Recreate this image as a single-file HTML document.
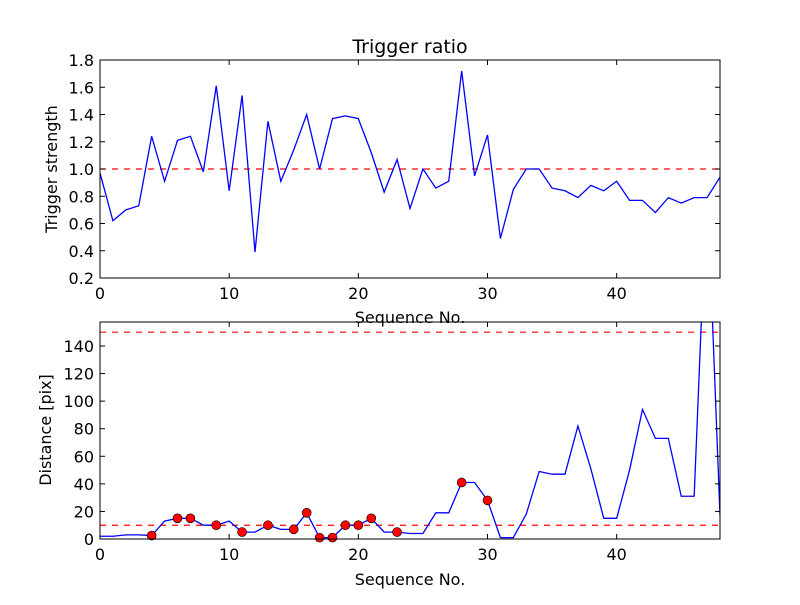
<!DOCTYPE html>
<html><head><meta charset="utf-8"><style>
body{margin:0;background:#fff;}
svg text{font-family:"DejaVu Sans","Liberation Sans",sans-serif;fill:#000;}
</style></head><body>
<svg id="chart" width="800" height="600" xmlns="http://www.w3.org/2000/svg">
<rect width="800" height="600" fill="#fff"/>
</svg>
<script>
const seq = Array.from({length:49},(_,i)=>i);
const ratio = [0.97,0.62,0.70,0.73,1.24,0.91,1.21,1.24,0.98,1.61,0.84,1.54,0.39,1.35,0.91,1.14,1.40,1.00,1.37,1.39,1.37,1.12,0.83,1.07,0.71,1.00,0.86,0.91,1.72,0.95,1.25,0.49,0.85,1.00,1.00,0.86,0.84,0.79,0.88,0.84,0.91,0.77,0.77,0.68,0.79,0.75,0.79,0.79,0.94];
const distance = [2,2,3,3,2.5,13,15,15,10,10,13,5,5,10,7,7,19,1,1,10,10,15,5,5,4,4,19,19,41,41,28,1,1,18,49,47,47,82,51,15,15,50,94,73,73,31,31,260,17];
const markedIdx = [4,6,7,9,11,13,15,16,17,18,19,20,21,23,28,30];
const topYTicks = [0.2,0.4,0.6,0.8,1.0,1.2,1.4,1.6,1.8];
const botYTicks = [0,20,40,60,80,100,120,140];
const xTicks = [0,10,20,30,40];
const ratioThreshold = [1.0];
const distThresholds = [10,150];

const svg = document.getElementById('chart');
const NS = 'http://www.w3.org/2000/svg';
function mk(tag, attrs, parent){const e=document.createElementNS(NS,tag);for(const k in attrs)e.setAttribute(k,attrs[k]);(parent||svg).appendChild(e);return e;}

function panel(name, top, bottom, ymin, ymax, yTicks, fmt){
  const L=100,R=720;
  const g=mk('g',{});
  
  
  const sx=v=>L+(v-0)/(48-0)*(R-L);
  const sy=v=>bottom-(v-ymin)/(ymax-ymin)*(bottom-top);
  const cp='clip-'+name;
  const c=mk('clipPath',{id:cp},g); mk('rect',{x:L,y:top,width:R-L,height:bottom-top},c);
  return {g,sx,sy,L,R,top,bottom,cp,yTicks,fmt};
}
function axes(p){
  const {g,sx,sy,L,R,top,bottom}=p;
  const fr=mk('rect',{x:L,y:top,width:R-L,height:bottom-top,fill:'none',stroke:'#000','stroke-width':1},g);
  
  
  xTicks.forEach(t=>{const x=sx(t);
    mk('line',{x1:x,x2:x,y1:bottom,y2:bottom-5,stroke:'#000'},g);
    mk('line',{x1:x,x2:x,y1:top,y2:top+5,stroke:'#000'},g);
    const tx=mk('text',{x:x,y:bottom+21,'text-anchor':'middle','font-size':16},g);tx.textContent=t;
    
    
  });
  p.yTicks.forEach(t=>{const y=sy(t);
    mk('line',{x1:L,x2:L+5,y1:y,y2:y,stroke:'#000'},g);
    mk('line',{x1:R,x2:R-5,y1:y,y2:y,stroke:'#000'},g);
    const tx=mk('text',{x:L-6,y:y+6,'text-anchor':'end','font-size':16},g);tx.textContent=p.fmt(t);
    
    
  });
}
function hline(p,v){
  const l=mk('line',{x1:p.L,x2:p.R,y1:p.sy(v),y2:p.sy(v),stroke:'#ff0000','stroke-width':1.2,'stroke-dasharray':'6,6','clip-path':'url(#'+p.cp+')'},p.g);
  
  
}
function series(p,vals){
  const pts=vals.map((v,i)=>p.sx(seq[i]).toFixed(2)+','+p.sy(v).toFixed(2)).join(' ');
  const pl=mk('polyline',{points:pts,fill:'none',stroke:'#0000ff','stroke-width':1.3,'clip-path':'url(#'+p.cp+')'},p.g);
  
  
}

const p1=panel('trigger-ratio-panel',60,278,0.2,1.8,topYTicks,v=>v.toFixed(1));
ratioThreshold.forEach(v=>hline(p1,v));
series(p1,ratio);
axes(p1);
const p2=panel('distance-panel',322,539,0,157.4,botYTicks,v=>String(v));
distThresholds.forEach(v=>hline(p2,v));
series(p2,distance);
markedIdx.forEach(i=>{
  const c=mk('circle',{cx:p2.sx(seq[i]),cy:p2.sy(distance[i]),r:4.5,fill:'#ff0000',stroke:'#000','stroke-width':0.6},p2.g);
  
  
});
axes(p2);

function label(txt,x,y,size,name,rot){
  const a={x:x,y:y,'text-anchor':'middle','font-size':size};
  if(rot)a.transform='rotate(-90 '+x+' '+y+')';
  const t=mk('text',a);t.textContent=txt;
  
  
}
label('Trigger ratio',410,53,19,'chart-title');
label('Sequence No.',410,323,16,'top-x-axis-title');
label('Sequence No.',410,585,16,'bottom-x-axis-title');
label('Trigger strength',57,169,16,'top-y-axis-title',true);
label('Distance [pix]',51,430,16,'bottom-y-axis-title',true);
</script>
</body></html>
